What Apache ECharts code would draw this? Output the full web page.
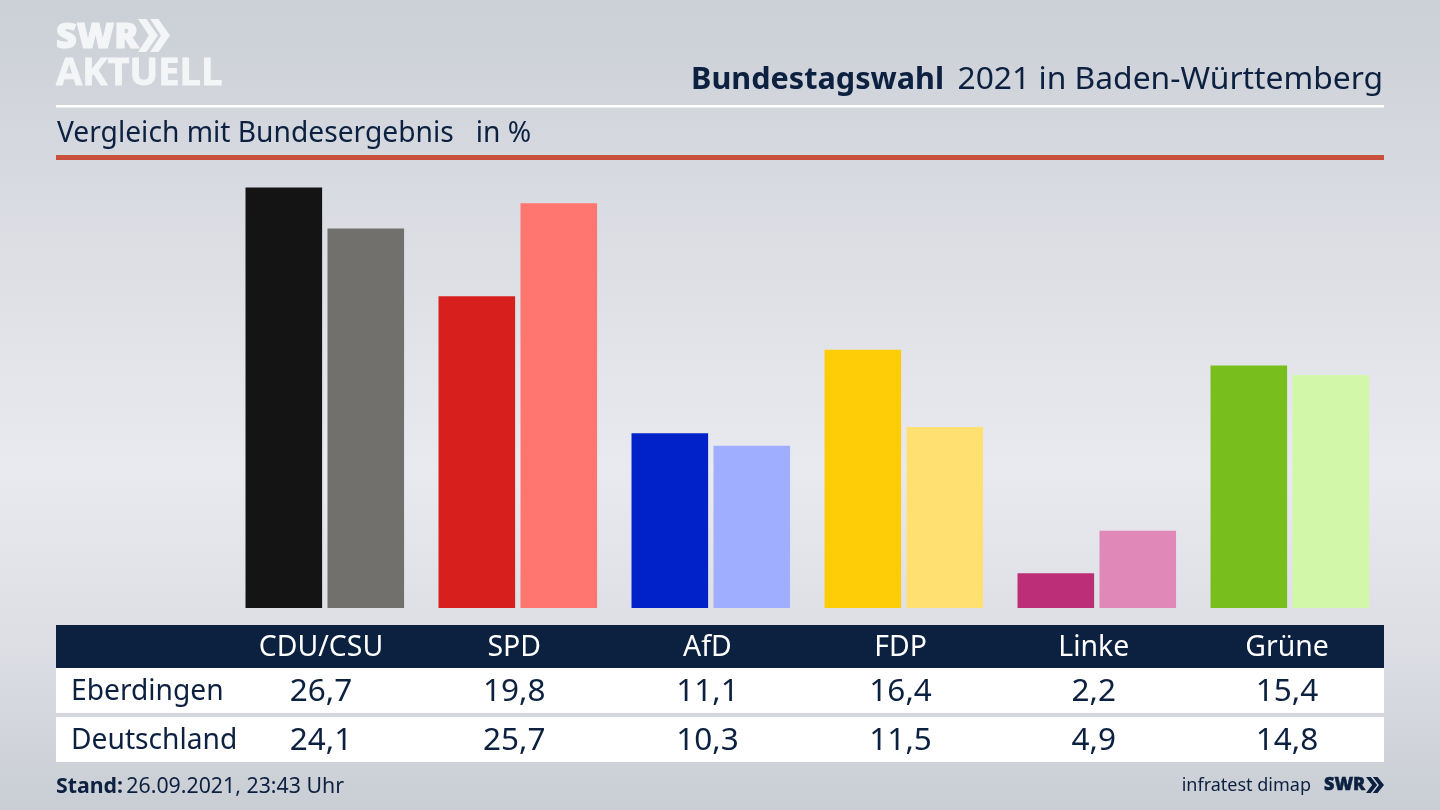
<!DOCTYPE html>
<html><head><meta charset="utf-8">
<style>html,body{margin:0;padding:0;width:1440px;height:810px;overflow:hidden}#c{width:1440px;height:810px}</style>
<script src="https://cdn.jsdelivr.net/npm/echarts@6/dist/echarts.min.js"></script>
</head><body><div id="c"></div>
<script>
const parties = ['CDU/CSU','SPD','AfD','FDP','Linke','Grüne'];
const eberdingen = [26.7,19.8,11.1,16.4,2.2,15.4];
const deutschland = [24.1,25.7,10.3,11.5,4.9,14.8];
const colorsA = ['#141414','#d7201e','#0022c8','#ffcc08','#bc2f78','#78be1c'];
const colorsB = ['#72706c','#ff7570','#a0aeff','#ffe070','#e088b8','#d3f7a8'];
const rowNames = ['Eberdingen','Deutschland'];
const FONT = '"Noto Sans"';
const NAVY = '#0c2040';
const fmt = v => v.toFixed(1).replace('.',',');
const PX = 420.5/26.7, BASE = 608, LEFT = 228.3, STEP = 193;
const colX = i => 321 + i*193.2;
const g = [];
const rect = (x,y,w,h,fill) => g.push({type:'rect',shape:{x,y,width:w,height:h},style:{fill},silent:true,z:1});
const text = (x,y,t,size,fill,align,weight,extra) => g.push({type:'text',x,y,silent:true,z:2,style:Object.assign({text:t,fontFamily:FONT,fontSize:size,fill,align:align||'left',verticalAlign:'middle',fontWeight:weight||'normal'},extra||{})});
const chev = (x,y,w,h,fill) => { // double chevron glyph
  [0,w*0.38].forEach(dx => g.push({type:'polygon',silent:true,z:2,shape:{points:[[x+dx,y],[x+dx+w*0.26,y],[x+dx+w*0.62,y+h/2],[x+dx+w*0.26,y+h],[x+dx,y+h],[x+dx+w*0.34,y+h/2]]},style:{fill}}));
};
// header
text(56,38,'SWR',36,'#f4f5f7','left','900',{fontFamily:'"Open Sans"',stroke:'#f4f5f7',lineWidth:1.2});
chev(138,19,32,33,'#f4f5f7');
text(56,74,'AKTUELL',38,'#f4f5f7','left','700',{fontFamily:'"Open Sans"',stroke:'#f4f5f7',lineWidth:0.8});
text(944,80,'Bundestagswahl',30.6,NAVY,'right','bold');
text(1383,80,'2021 in Baden-Württemberg',31.8,NAVY,'right');
rect(56,105,1328,2.5,'#ffffff');
text(57,134,'Vergleich mit Bundesergebnis   in %',28.2,NAVY);
rect(56,155,1328,5,'#c8503c');
// table
rect(56,625,1328,43,NAVY);
rect(56,668,1328,45,'#ffffff');
rect(56,717,1328,45,'#ffffff');
parties.forEach((p,i)=>{
  text(colX(i),648,p,28.4,'#ffffff','center');
  text(colX(i),692,fmt(eberdingen[i]),31.5,NAVY,'center');
  text(colX(i),741,fmt(deutschland[i]),31.5,NAVY,'center');
});
text(71,692,rowNames[0],28.2,NAVY);
text(71,741,rowNames[1],28.2,NAVY);
// footer
g.push({type:'text',x:56,y:787,silent:true,z:2,style:{text:'{b|Stand:} {r|26.09.2021, 23:43 Uhr}',verticalAlign:'middle',
  rich:{b:{fontFamily:FONT,fontSize:21.3,fontWeight:'bold',fill:NAVY},r:{fontFamily:FONT,fontSize:21.3,fill:NAVY}}}});
text(1311,786,'infratest dimap',18,NAVY,'right');
text(1324,785,'SWR',18,NAVY,'left','900',{fontFamily:'"Open Sans"',stroke:NAVY,lineWidth:0.5});
chev(1366,777,18,16,NAVY);

const mk = (name,vals,cols) => ({type:'bar',name,barWidth:76.6,barGap:'7%',silent:true,animation:false,
  data:vals.map((v,i)=>({value:v,itemStyle:{color:cols[i]}}))});
const chart = echarts.init(document.getElementById('c'),null,{renderer:'canvas'});
chart.setOption({
  animation:false,
  backgroundColor:new echarts.graphic.LinearGradient(0,0,0,1,[
    {offset:0,color:'#cbcfd6'},{offset:0.3,color:'#dcdee4'},{offset:0.58,color:'#e9eaf0'},{offset:0.8,color:'#dcdee4'},{offset:1,color:'#c9cdd4'}]),
  grid:{left:LEFT,width:STEP*6,top:BASE-30*PX,height:30*PX},
  xAxis:{type:'category',data:parties,axisLine:{show:false},axisTick:{show:false},axisLabel:{show:false}},
  yAxis:{type:'value',min:0,max:30,show:false,splitLine:{show:false}},
  graphic:{elements:g},
  series:[mk(rowNames[0],eberdingen,colorsA),mk(rowNames[1],deutschland,colorsB)]
});
</script></body></html>
